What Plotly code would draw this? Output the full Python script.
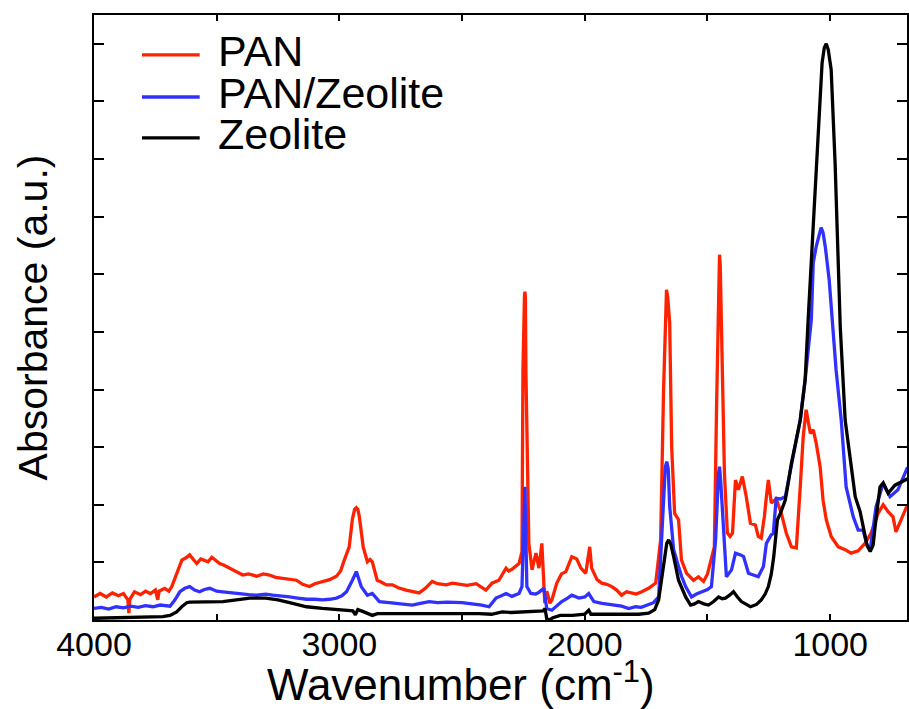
import plotly.graph_objects as go

# ---------------- data ----------------
pan_wn = [4000, 3975, 3950, 3925, 3900, 3880, 3862, 3858, 3854, 3835, 3810, 3790, 3770, 3750, 3740, 3735,
          3712, 3695, 3683, 3663, 3642, 3625, 3610, 3595, 3581, 3565, 3549, 3535, 3520, 3505, 3488, 3470,
          3447, 3420, 3394, 3370, 3337, 3310, 3285, 3260, 3232, 3205, 3175, 3150, 3122, 3100, 3069, 3040,
          3012, 2995, 2980, 2960, 2947, 2938, 2931, 2925, 2919, 2903, 2886, 2875, 2866, 2846, 2830, 2809, 2784, 2760,
          2728, 2700, 2675, 2650, 2622, 2600, 2565, 2540, 2512, 2480, 2443, 2420, 2403, 2378, 2350, 2321,
          2310, 2297, 2280, 2268, 2256, 2252, 2246, 2244, 2242, 2240, 2228, 2215, 2199, 2187, 2175, 2163, 2155, 2142,
          2134, 2114, 2095, 2077, 2053, 2033, 2016, 1996, 1980, 1972, 1950, 1931, 1910, 1890, 1870, 1850,
          1830, 1809, 1790, 1768, 1740, 1711, 1691, 1679, 1671, 1667, 1662, 1654, 1646, 1634, 1618, 1606, 1585, 1557,
          1537, 1516, 1500, 1488, 1472, 1463, 1454, 1451, 1448, 1443, 1431, 1419, 1408, 1398, 1386, 1374, 1358, 1342,
          1325, 1305, 1293, 1281, 1268, 1260, 1252, 1240, 1220, 1199, 1179, 1158, 1138, 1122, 1110, 1098,
          1081, 1069, 1057, 1041, 1029, 1016, 996, 967, 939, 915, 886, 858, 833, 805, 784, 764,
          744, 732, 711, 691, 685]
pan_abs = [0.040, 0.046, 0.040, 0.047, 0.042, 0.046, 0.035, 0.012, 0.036, 0.049, 0.044, 0.050, 0.046, 0.052, 0.035, 0.050,
           0.055, 0.050, 0.058, 0.081, 0.104, 0.108, 0.113, 0.105, 0.098, 0.106, 0.104, 0.101, 0.109, 0.103, 0.098, 0.095,
           0.090, 0.085, 0.078, 0.080, 0.076, 0.080, 0.078, 0.074, 0.072, 0.071, 0.069, 0.062, 0.058, 0.063, 0.066, 0.070,
           0.076, 0.085, 0.104, 0.127, 0.175, 0.192, 0.195, 0.192, 0.180, 0.127, 0.101, 0.105, 0.101, 0.069, 0.066, 0.061, 0.061, 0.056,
           0.052, 0.049, 0.047, 0.055, 0.067, 0.063, 0.061, 0.064, 0.062, 0.060, 0.063, 0.057, 0.052, 0.064, 0.069, 0.090,
           0.085, 0.088, 0.094, 0.098, 0.118, 0.434, 0.560, 0.570, 0.560, 0.434, 0.133, 0.087, 0.116, 0.090, 0.133, 0.029, 0.050, 0.029,
           0.035, 0.064, 0.080, 0.084, 0.110, 0.106, 0.090, 0.081, 0.127, 0.090, 0.070, 0.064, 0.062, 0.058, 0.052, 0.043,
           0.049, 0.047, 0.045, 0.049, 0.055, 0.064, 0.139, 0.399, 0.560, 0.573, 0.560, 0.515, 0.301, 0.185, 0.174, 0.104, 0.081, 0.069,
           0.075, 0.067, 0.080, 0.098, 0.127, 0.370, 0.620, 0.634, 0.615, 0.486, 0.255, 0.151, 0.145, 0.151, 0.243, 0.226, 0.249, 0.214,
           0.168, 0.165, 0.145, 0.142, 0.180, 0.214, 0.243, 0.203, 0.210, 0.185, 0.151, 0.127, 0.125, 0.231, 0.318, 0.365,
           0.324, 0.330, 0.307, 0.266, 0.208, 0.174, 0.145, 0.127, 0.122, 0.116, 0.120, 0.133, 0.151, 0.185, 0.200, 0.188,
           0.179, 0.153, 0.174, 0.197, 0.200]

panz_wn = [4000, 3970, 3940, 3910, 3880, 3850, 3820, 3790, 3760, 3730, 3690, 3670, 3650, 3630, 3610, 3590,
           3570, 3550, 3528, 3500, 3475, 3440, 3407, 3370, 3337, 3300, 3272, 3240, 3203, 3170, 3134, 3100,
           3069, 3040, 3012, 2990, 2971, 2947, 2931, 2911, 2886, 2866, 2837, 2797, 2760, 2730, 2703, 2670,
           2634, 2600, 2560, 2500, 2450, 2420, 2390, 2362, 2340, 2321, 2297, 2280, 2268, 2256, 2244, 2236,
           2220, 2200, 2187, 2167, 2155, 2134, 2115, 2094, 2070, 2053, 2024, 2000, 1984, 1963, 1930, 1890,
           1850, 1821, 1793, 1770, 1740, 1720, 1699, 1687, 1672, 1666, 1660, 1654, 1638, 1618, 1605, 1589, 1565, 1545,
           1524, 1500, 1484, 1467, 1455, 1451, 1446, 1435, 1423, 1402, 1386, 1365, 1353, 1333, 1310, 1293, 1272, 1260,
           1240, 1232, 1220, 1203, 1183, 1158, 1122, 1102, 1077, 1069, 1057, 1045, 1037, 1029, 1020, 1004, 988, 976,
           955, 935, 906, 886, 866, 850, 837, 813, 784, 756, 724, 691, 685]
panz_abs = [0.020, 0.022, 0.019, 0.023, 0.021, 0.024, 0.022, 0.025, 0.023, 0.026, 0.024, 0.035, 0.049, 0.055, 0.058, 0.052,
            0.049, 0.053, 0.055, 0.050, 0.049, 0.047, 0.046, 0.044, 0.043, 0.045, 0.043, 0.042, 0.040, 0.038, 0.036, 0.036,
            0.035, 0.036, 0.038, 0.042, 0.049, 0.069, 0.084, 0.058, 0.043, 0.046, 0.032, 0.030, 0.028, 0.027, 0.026, 0.029,
            0.032, 0.030, 0.031, 0.030, 0.028, 0.026, 0.023, 0.038, 0.042, 0.046, 0.041, 0.044, 0.046, 0.058, 0.231, 0.058,
            0.046, 0.045, 0.048, 0.055, 0.020, 0.017, 0.025, 0.032, 0.038, 0.043, 0.038, 0.040, 0.046, 0.032, 0.029, 0.026,
            0.024, 0.020, 0.023, 0.022, 0.026, 0.030, 0.040, 0.139, 0.265, 0.275, 0.262, 0.197, 0.122, 0.093, 0.075, 0.058, 0.040, 0.045,
            0.049, 0.053, 0.058, 0.139, 0.255, 0.266, 0.240, 0.168, 0.075, 0.087, 0.116, 0.113, 0.110, 0.081, 0.077, 0.075, 0.093, 0.133,
            0.148, 0.150, 0.211, 0.210, 0.214, 0.266, 0.347, 0.417, 0.521, 0.620, 0.648, 0.668, 0.681, 0.672, 0.648, 0.590, 0.509, 0.434,
            0.347, 0.231, 0.179, 0.156, 0.156, 0.130, 0.122, 0.197, 0.237, 0.214, 0.226, 0.260, 0.265]

zeo_wn = [4000, 3900, 3800, 3720, 3690, 3663, 3640, 3622, 3610, 3540, 3475, 3420, 3365, 3300, 3250, 3203,
          3134, 3069, 3000, 2960, 2945, 2935, 2925, 2905, 2890, 2866, 2845, 2825, 2800, 2700, 2600, 2500,
          2431, 2380, 2337, 2300, 2250, 2200, 2170, 2162, 2155, 2145, 2130, 2100, 2050, 2000, 1984, 1975,
          1900, 1850, 1821, 1780, 1740, 1715, 1699, 1679, 1666, 1658, 1650, 1638, 1618, 1589, 1569, 1553, 1537, 1515,
          1496, 1475, 1455, 1440, 1427, 1410, 1394, 1378, 1362, 1325, 1300, 1281, 1265, 1252, 1240, 1230,
          1215, 1203, 1190, 1183, 1171, 1158, 1122, 1102, 1090, 1069, 1049, 1033, 1024, 1016, 1008, 996, 980, 967,
          959, 939, 919, 898, 878, 862, 850, 837, 825, 817, 797, 784, 764, 736, 710, 695, 685]
zeo_abs = [0.003, 0.004, 0.005, 0.006, 0.008, 0.014, 0.024, 0.030, 0.031, 0.031, 0.032, 0.035, 0.038, 0.038, 0.035, 0.030,
           0.023, 0.020, 0.018, 0.017, 0.016, 0.009, 0.018, 0.015, 0.012, 0.008, 0.011, 0.011, 0.012, 0.011, 0.012, 0.012,
           0.011, 0.010, 0.014, 0.013, 0.014, 0.016, 0.016, 0.020, 0.002, 0.000, 0.004, 0.008, 0.008, 0.010, 0.017, 0.010,
           0.010, 0.009, 0.009, 0.010, 0.012, 0.018, 0.035, 0.093, 0.133, 0.139, 0.132, 0.110, 0.069, 0.040, 0.026, 0.028, 0.032, 0.028,
           0.026, 0.032, 0.040, 0.037, 0.038, 0.043, 0.049, 0.040, 0.032, 0.023, 0.027, 0.035, 0.045, 0.058, 0.080, 0.110,
           0.174, 0.185, 0.200, 0.208, 0.238, 0.272, 0.347, 0.417, 0.520, 0.677, 0.851, 0.967, 0.993, 1.000, 0.990, 0.955, 0.793, 0.620,
           0.509, 0.347, 0.278, 0.214, 0.188, 0.151, 0.130, 0.119, 0.130, 0.162, 0.231, 0.238, 0.220, 0.234, 0.240, 0.243, 0.245]

series_names = ["PAN", "PAN/Zeolite", "Zeolite"]
series_colors = ["#ff2200", "#3030ff", "#000000"]

# ---------------- figure ----------------
FONT = "Liberation Sans, Arial, Helvetica, sans-serif"
fig = go.Figure()
for name, color, xs, ys in zip(series_names, series_colors,
                               [pan_wn, panz_wn, zeo_wn], [pan_abs, panz_abs, zeo_abs]):
    fig.add_trace(go.Scatter(x=xs, y=ys, mode="lines", name=name,
                             line=dict(color=color, width=3.3), showlegend=False))

# manual legend (long sample lines as in the reference)
leg_y = [0.934, 0.8645, 0.797]
shapes = []
annotations = []
for name, color, yy in zip(series_names, series_colors, leg_y):
    shapes.append(dict(type="line", xref="paper", yref="paper", x0=0.059, x1=0.130, y0=yy, y1=yy,
                       line=dict(color=color, width=3.3)))
    annotations.append(dict(xref="paper", yref="paper", x=0.150, y=yy + 0.006, text=name, showarrow=False,
                            xanchor="left", yanchor="middle", font=dict(family=FONT, size=43, color="black")))

# x axis title as an annotation (reference title is left of the plot centre)
annotations.append(dict(xref="paper", yref="paper", x=0.452, y=-0.101, text="Wavenumber (cm<sup>-1</sup>)",
                        showarrow=False, xanchor="center", yanchor="middle",
                        font=dict(family=FONT, size=44, color="black")))

fig.update_layout(
    width=909, height=709,
    margin=dict(l=94, r=0, t=15, b=89),
    paper_bgcolor="white", plot_bgcolor="white",
    font=dict(family=FONT, color="black"),
    shapes=shapes, annotations=annotations,
)
fig.update_xaxes(
    range=[4000, 687], autorange=False,
    tickmode="linear", tick0=1000, dtick=1000,
    ticks="inside", ticklen=6, tickwidth=1.5, tickcolor="black",
    minor=dict(dtick=500, tick0=0, ticks="inside", ticklen=6, tickwidth=1.5, tickcolor="black"),
    showline=True, linecolor="black", linewidth=1.5, mirror="ticks",
    showgrid=False, zeroline=False,
    tickfont=dict(family=FONT, size=34, color="black"),
    ticklabelstandoff=-7,
)
fig.update_yaxes(
    range=[0, 1.050], autorange=False,
    tickmode="linear", tick0=0, dtick=0.1,
    ticks="inside", ticklen=10, tickwidth=1.5, tickcolor="black",
    showticklabels=False,
    showline=True, linecolor="black", linewidth=1.5, mirror="ticks",
    showgrid=False, zeroline=False,
    title=dict(text="Absorbance (a.u.)", font=dict(family=FONT, size=41, color="black"), standoff=32),
)

fig.write_html("out.html")
